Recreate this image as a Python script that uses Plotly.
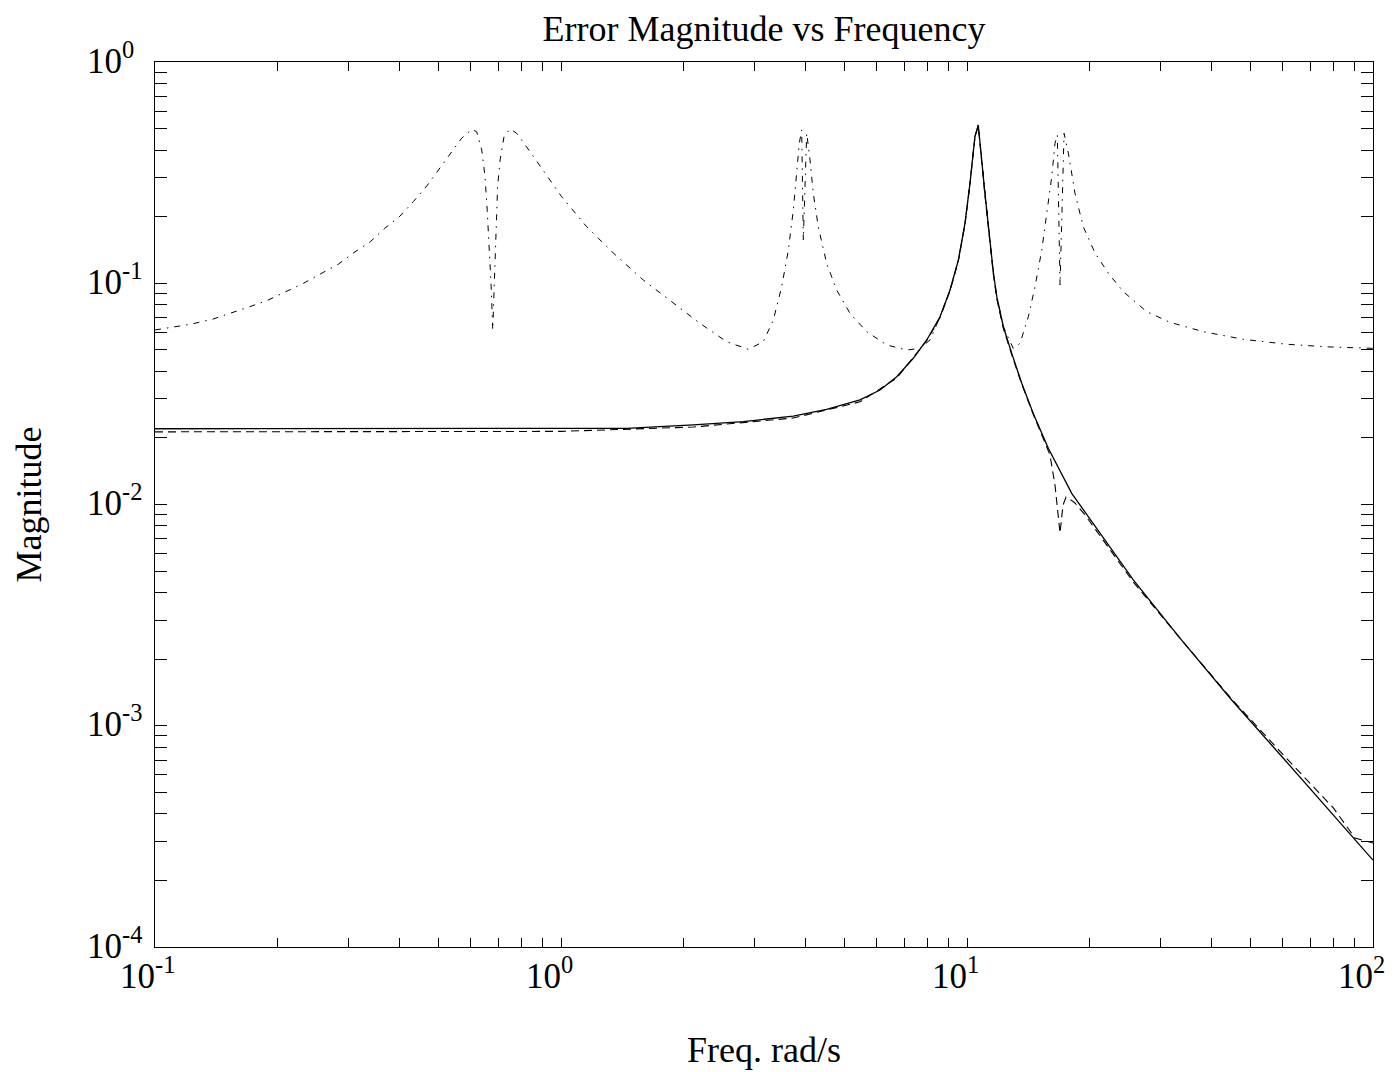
import math
import plotly.graph_objects as go

# ---- data (frequency in rad/s, magnitude) ----
upper_f = [0.1, 0.122, 0.139, 0.156, 0.171, 0.190, 0.211, 0.232, 0.255, 0.283,
           0.308, 0.339, 0.368, 0.401, 0.433, 0.467, 0.499, 0.533, 0.569, 0.603,
           0.620, 0.638, 0.650, 0.658, 0.666, 0.673, 0.679, 0.685, 0.692, 0.698,
           0.708, 0.724, 0.749, 0.778, 0.839, 0.896, 0.966, 1.004, 1.157, 1.345,
           1.595, 1.891, 2.199, 2.559, 2.893, 3.149, 3.334, 3.496, 3.630, 3.734,
           3.806, 3.863, 3.916, 3.952, 4.029, 4.105, 4.182, 4.302, 4.511, 4.775,
           5.150, 5.662, 6.342, 7.104, 7.660, 8.108, 8.582, 9.082, 9.520, 9.888,
           10.17, 10.46, 10.66, 11.07, 11.39, 11.61, 11.84, 12.06, 12.29, 13.00,
           13.51, 14.16, 14.71, 15.28, 15.77, 16.17, 16.47, 16.69, 16.95, 17.34,
           17.77, 18.45, 19.34, 20.67, 22.29, 24.27, 27.71, 31.62, 38.19, 47.93,
           61.31, 76.88, 100.0]
upper_m = [0.0615, 0.0652, 0.0689, 0.0739, 0.0783, 0.0840, 0.0916, 0.0999, 0.110, 0.122,
           0.137, 0.154, 0.177, 0.201, 0.234, 0.275, 0.325, 0.383, 0.452, 0.496,
           0.484, 0.400, 0.303, 0.214, 0.141, 0.0965, 0.0615, 0.107, 0.193, 0.273,
           0.361, 0.460, 0.498, 0.476, 0.393, 0.331, 0.269, 0.246, 0.180, 0.137,
           0.1034, 0.0812, 0.0659, 0.0544, 0.0503, 0.0544, 0.0682, 0.0965, 0.141, 0.214,
           0.303, 0.429, 0.493, 0.157, 0.476, 0.361, 0.255, 0.180, 0.123, 0.0932,
           0.0731, 0.0604, 0.0526, 0.0499, 0.0508, 0.0554, 0.0706, 0.0932, 0.127, 0.187,
           0.283, 0.460, 0.519, 0.255, 0.152, 0.1124, 0.0870, 0.0734, 0.0636, 0.0508,
           0.0535, 0.0706, 0.0965, 0.141, 0.214, 0.303, 0.429, 0.468, 0.0982, 0.476,
           0.387, 0.255, 0.180, 0.137, 0.111, 0.0916, 0.0744, 0.0666, 0.0604, 0.0558,
           0.0530, 0.0516, 0.0508]

solid_f = [0.1, 0.2, 0.5, 1.0, 1.451, 2.118, 2.812, 3.734, 4.511, 5.450,
           6.107, 6.713, 7.375, 7.958, 8.582, 9.082, 9.520, 9.888, 10.17, 10.46,
           10.66, 11.07, 11.39, 11.61, 11.84, 12.06, 12.29, 12.89, 13.64, 14.56,
           15.86, 18.11, 21.27, 25.68, 33.46, 44.87, 60.14, 79.86, 100.0]
solid_m = [0.0220, 0.0220, 0.0220, 0.0220, 0.0221, 0.0229, 0.0237, 0.0251, 0.0269, 0.0297,
           0.0329, 0.0378, 0.0458, 0.0554, 0.0706, 0.0932, 0.127, 0.187, 0.283, 0.460,
           0.519, 0.255, 0.152, 0.1124, 0.0870, 0.0734, 0.0636, 0.0482, 0.0353, 0.0258,
           0.01795, 0.01123, 0.00741, 0.00456, 0.00249, 0.001307, 0.000713, 0.000396, 0.000247]

dashed_f = [0.1, 0.3, 1.0, 2.118, 3.734, 5.450, 6.713, 7.958, 8.582, 9.082,
            9.520, 9.888, 10.17, 10.46, 10.66, 11.07, 11.39, 11.61, 11.84, 12.06,
            12.29, 12.89, 13.64, 14.56, 16.01, 16.47, 16.95, 17.24, 17.54, 17.74,
            18.45, 19.53, 21.27, 25.68, 33.46, 44.87, 60.14, 79.86, 90.3, 100.0]
dashed_m = [0.0213, 0.0213, 0.0214, 0.0224, 0.0246, 0.0291, 0.0373, 0.0550, 0.0700, 0.0925,
            0.126, 0.185, 0.280, 0.455, 0.515, 0.250, 0.148, 0.1100, 0.0850, 0.0722,
            0.0625, 0.0475, 0.0350, 0.0256, 0.01674, 0.01225, 0.00743, 0.00995, 0.01081, 0.01070,
            0.01016, 0.00897, 0.00720, 0.00446, 0.00249, 0.00132, 0.000738, 0.000425, 0.000311, 0.000295]

x_major = [0.1, 1, 10, 100]
x_major_text = ["10<sup>-1</sup>", "10<sup>0</sup>", "10<sup>1</sup>", "10<sup>2</sup>"]
y_major = [1e-4, 1e-3, 1e-2, 1e-1, 1]
y_major_text = ["10<sup>-4</sup>", "10<sup>-3</sup>", "10<sup>-2</sup>", "10<sup>-1</sup>", "10<sup>0</sup>"]
x_minor = [m * 10 ** e for e in (-1, 0, 1) for m in range(2, 10)]
y_minor = [m * 10 ** e for e in (-4, -3, -2, -1) for m in range(2, 10)]

title_text = "Error Magnitude vs Frequency"
x_title = "Freq. rad/s"
y_title = "Magnitude"

FONT = "Liberation Serif, Times New Roman, serif"
TICK_SIZE = 35
TITLE_SIZE = 36

fig = go.Figure()
fig.add_trace(go.Scatter(x=upper_f, y=upper_m, mode="lines",
                         line=dict(color="black", width=1, dash="6px,6px,1.5px,6px")))
fig.add_trace(go.Scatter(x=dashed_f, y=dashed_m, mode="lines",
                         line=dict(color="black", width=1.1, dash="8px,5px")))
fig.add_trace(go.Scatter(x=solid_f, y=solid_m, mode="lines",
                         line=dict(color="black", width=1.3)))

# Tick labels placed MATLAB-style: the "10" hugs the tick, exponent hangs after it
annotations = []
for v, t in zip(x_major, x_major_text):
    annotations.append(dict(x=math.log10(v), xref="x", y=0, yref="paper",
                            text=t, showarrow=False, xanchor="left", yanchor="middle",
                            xshift=-37, yshift=-26,
                            font=dict(family=FONT, size=TICK_SIZE, color="black")))
for v, t in zip(y_major, y_major_text):
    annotations.append(dict(x=0, xref="paper", y=math.log10(v), yref="y",
                            text=t, showarrow=False, xanchor="left", yanchor="middle",
                            xshift=-70, yshift=4,
                            font=dict(family=FONT, size=TICK_SIZE, color="black")))

fig.update_layout(
    width=1395, height=1072, autosize=False,
    margin=dict(l=155, r=22, t=62, b=125),
    paper_bgcolor="white", plot_bgcolor="white",
    showlegend=False,
    font=dict(family=FONT, size=TITLE_SIZE, color="black"),
    title=dict(text=title_text, x=0.5, xanchor="center", xref="paper",
               y=1 - 28 / 1072, yref="container", yanchor="middle",
               font=dict(family=FONT, size=TITLE_SIZE, color="black")),
    annotations=annotations,
)

fig.update_xaxes(
    type="log", range=[-1, 2],
    showgrid=False, zeroline=False,
    showline=True, linecolor="black", linewidth=1, mirror="ticks",
    ticks="inside", ticklen=9, tickwidth=1, tickcolor="black",
    tickmode="array", tickvals=x_major, showticklabels=False,
    minor=dict(tickmode="array", tickvals=x_minor, ticks="inside",
               ticklen=9, tickwidth=1, tickcolor="black", showgrid=False),
    title=dict(text=x_title, font=dict(family=FONT, size=TITLE_SIZE, color="black"),
               standoff=89),
)
fig.update_yaxes(
    type="log", range=[-4, 0],
    showgrid=False, zeroline=False,
    showline=True, linecolor="black", linewidth=1, mirror="ticks",
    ticks="inside", ticklen=12, tickwidth=1, tickcolor="black",
    tickmode="array", tickvals=y_major, showticklabels=False,
    minor=dict(tickmode="array", tickvals=y_minor, ticks="inside",
               ticklen=12, tickwidth=1, tickcolor="black", showgrid=False),
    title=dict(text=y_title, font=dict(family=FONT, size=TITLE_SIZE, color="black"),
               standoff=101),
)

fig.write_html("out.html", config={"displayModeBar": False})
